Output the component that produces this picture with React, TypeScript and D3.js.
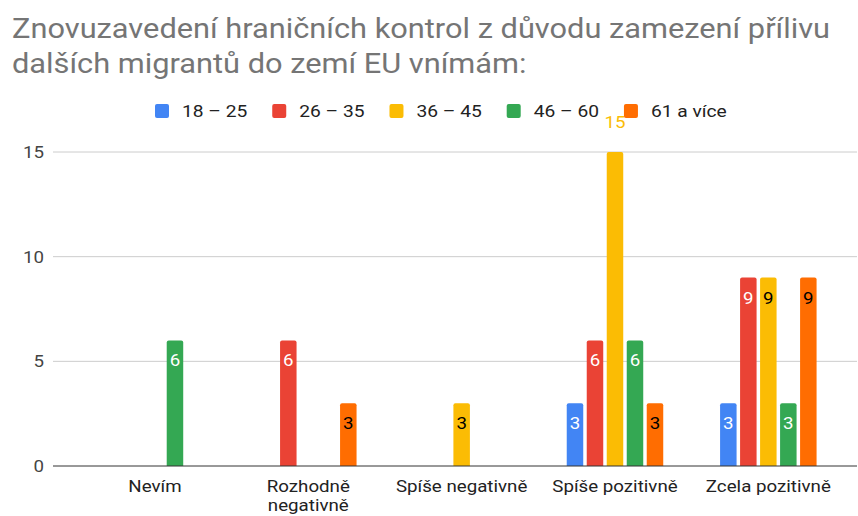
import React, { useEffect, useRef } from 'react';
import * as d3 from 'd3';

const categories = ['Nevím', 'Rozhodně negativně', 'Spíše negativně', 'Spíše pozitivně', 'Zcela pozitivně'];
const categoryLines = [['Nevím'], ['Rozhodně', 'negativně'], ['Spíše negativně'], ['Spíše pozitivně'], ['Zcela pozitivně']];
const series = ['18 – 25', '26 – 35', '36 – 45', '46 – 60', '61 a více'];
const colors = ['#4285f4', '#ea4335', '#fbbc04', '#34a853', '#ff6d01'];
const labelColors = ['#ffffff', '#ffffff', '#000000', '#ffffff', '#000000'];
// values per series, in category order
const v1825 = [0, 0, 0, 3, 3];
const v2635 = [0, 6, 0, 6, 9];
const v3645 = [0, 0, 3, 15, 9];
const v4660 = [6, 0, 0, 6, 3];
const v61 = [0, 3, 0, 3, 9];
const yTicks = [0, 5, 10, 15];
const titleLines = ['Znovuzavedení hraničních kontrol z důvodu zamezení přílivu', 'dalších migrantů do zemí EU vnímám:'];

const values = [v1825, v2635, v3645, v4660, v61];
const font = 'Roboto, Arial, sans-serif';

export default function App() {
  const ref = useRef<SVGSVGElement | null>(null);

  useEffect(() => {
    document.body.style.margin = '0';
    const width = 858;
    const height = 516;
    const svg = d3.select(ref.current);
    svg.selectAll('*').remove();
    svg.attr('width', width).attr('height', height);

    svg.append('rect').attr('width', width).attr('height', height).attr('fill', '#fff');

    // the reference text is a bit wider than Roboto, stretch it horizontally
    const titleSx = 1.14;
    const labelSx = 1.17;
    const legendSx = 1.2;

    // title
    svg.append('g').selectAll('text').data(titleLines).enter().append('text')
      .attr('transform', (d, i) => `translate(12,${38 + i * 35}) scale(${titleSx},1)`)
      .attr('font-family', font)
      .attr('font-size', 27)
      .attr('fill', '#757575')
      .text(d => d);

    const gridLeft = 53;
    const gridRight = 857;

    const y = d3.scaleLinear().domain([0, 15]).range([466, 152]);
    const x0 = d3.scaleBand().domain(categories).range([78.3, 845]).padding(0);
    const groupW = 100;
    const x1 = d3.scaleBand().domain(series)
      .range([(x0.bandwidth() - groupW) / 2, (x0.bandwidth() + groupW) / 2])
      .paddingInner(0.175).paddingOuter(0.0875);

    // gridlines
    svg.append('g').selectAll('line').data(yTicks.filter(t => t > 0)).enter().append('line')
      .attr('x1', gridLeft).attr('x2', gridRight)
      .attr('y1', d => y(d)).attr('y2', d => y(d))
      .attr('stroke', '#cccccc').attr('stroke-width', 1);

    // y tick labels
    svg.append('g').selectAll('text').data(yTicks).enter().append('text')
      .attr('transform', d => `translate(44,${y(d)}) scale(1.1,1)`)
      .attr('dy', '0.35em')
      .attr('text-anchor', 'end')
      .attr('font-family', font)
      .attr('font-size', 17)
      .attr('fill', '#444444')
      .text(d => d);

    // bars
    const bars: { cat: string; s: number; v: number }[] = [];
    categories.forEach((c, ci) => {
      series.forEach((s, si) => {
        const v = values[si][ci];
        if (v > 0) bars.push({ cat: c, s: si, v });
      });
    });

    const r = 2;
    const barPath = (d: { cat: string; s: number; v: number }) => {
      const bx = (x0(d.cat) as number) + (x1(series[d.s]) as number);
      const bw = x1.bandwidth();
      const top = y(d.v);
      const bottom = y(0);
      return `M${bx},${bottom}V${top + r}Q${bx},${top} ${bx + r},${top}H${bx + bw - r}Q${bx + bw},${top} ${bx + bw},${top + r}V${bottom}Z`;
    };

    const g = svg.append('g');
    g.selectAll('path').data(bars).enter().append('path')
      .attr('d', barPath)
      .attr('fill', d => colors[d.s]);

    g.selectAll('text').data(bars).enter().append('text')
      .attr('transform', d => {
        const tx = (x0(d.cat) as number) + (x1(series[d.s]) as number) + x1.bandwidth() / 2;
        const ty = d.v >= 15 ? y(d.v) - 30 : y(d.v) + 20;
        return `translate(${tx},${ty}) scale(1.1,1)`;
      })
      .attr('dy', '0.35em')
      .attr('text-anchor', 'middle')
      .attr('font-family', font)
      .attr('font-size', 17)
      .attr('fill', d => (d.v >= 15 ? colors[d.s] : labelColors[d.s]))
      .text(d => d.v);

    // baseline
    svg.append('line')
      .attr('x1', gridLeft).attr('x2', gridRight)
      .attr('y1', y(0)).attr('y2', y(0))
      .attr('stroke', '#333333').attr('stroke-width', 1);

    // x labels
    const xl = svg.append('g').selectAll('text').data(categories).enter().append('text')
      .attr('transform', d => `translate(${(x0(d) as number) + x0.bandwidth() / 2},492) scale(${labelSx},1)`)
      .attr('text-anchor', 'middle')
      .attr('font-family', font)
      .attr('font-size', 16)
      .attr('fill', '#222222');
    xl.each(function (d, i) {
      const t = d3.select(this);
      categoryLines[i].forEach((line, li) => {
        t.append('tspan')
          .attr('x', 0)
          .attr('dy', li === 0 ? 0 : 19)
          .text(line);
      });
    });

    // legend
    const lg = svg.append('g');
    const items = lg.selectAll('g').data(series).enter().append('g');
    items.append('rect')
      .attr('width', 14).attr('height', 14)
      .attr('y', 104).attr('rx', 2)
      .attr('fill', (d, i) => colors[i]);
    items.append('text')
      .attr('transform', `translate(27,111) scale(${legendSx},1)`)
      .attr('dy', '0.35em')
      .attr('font-family', font)
      .attr('font-size', 16)
      .attr('fill', '#222222')
      .text(d => d);
    let cx = 0;
    const offsets: number[] = [];
    items.each(function () {
      offsets.push(cx);
      const tw = (d3.select(this).select('text').node() as SVGTextElement).getComputedTextLength() * legendSx;
      cx += 27 + tw + 25;
    });
    const start = 155;
    items.attr('transform', (d, i) => `translate(${start + offsets[i]},0)`);
  }, []);

  return <svg ref={ref} />;
}
